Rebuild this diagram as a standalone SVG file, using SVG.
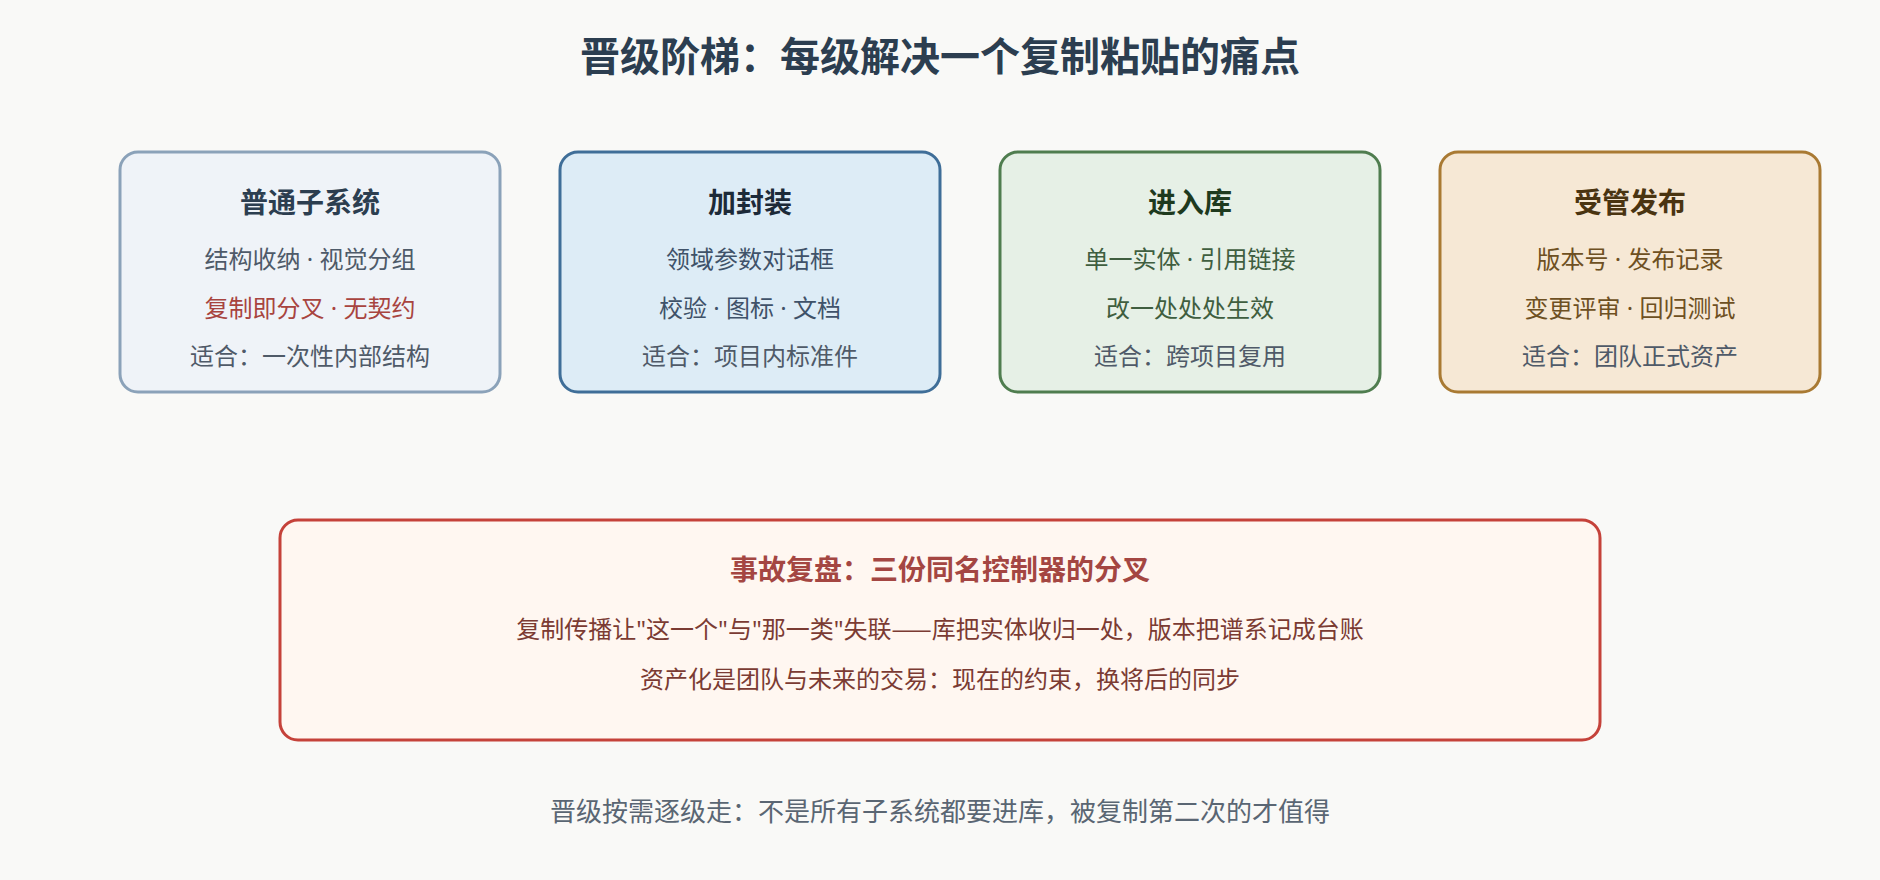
<svg xmlns="http://www.w3.org/2000/svg" width="1880" height="880" viewBox="0 0 1880 880">
<style>
text{font-family:"Noto Sans","Noto Sans CJK SC",sans-serif;text-anchor:middle}
.cjk{font-family:"Noto Sans CJK SC",sans-serif}
.h{font-size:28px;font-weight:bold}
.b{font-size:24px}
.box{stroke-width:3}
.fit{fill:#4f5a68}
</style>
<rect width="1880" height="880" fill="#f9f9f7"/>
<text x="940" y="71" style="font-size:40px;font-weight:bold" fill="#2c3e50">晋级阶梯：每级解决一个复制粘贴的痛点</text>
<g id="connectors"></g>
<g id="node-subsystem">
<rect class="box" x="120" y="152" width="380" height="240" rx="18" fill="#eff3f8" stroke="#8ba2b9"/>
<text class="h" x="310" y="213" fill="#2c3e50">普通子系统</text>
<text class="b" x="310" y="268" fill="#4e5a69">结构收纳 · 视觉分组</text>
<text class="b" x="310" y="317" fill="#a8443f">复制即分叉 · 无契约</text>
<text class="b fit" x="310" y="365">适合：一次性内部结构</text>
</g>
<g id="node-mask">
<rect class="box" x="560" y="152" width="380" height="240" rx="18" fill="#ddecf6" stroke="#3f6e98"/>
<text class="h" x="750" y="213" fill="#1c2a38">加封装</text>
<text class="b" x="750" y="268" fill="#3f5269">领域参数对话框</text>
<text class="b" x="750" y="317" fill="#3f5269">校验 · 图标 · 文档</text>
<text class="b fit" x="750" y="365">适合：项目内标准件</text>
</g>
<g id="node-library">
<rect class="box" x="1000" y="152" width="380" height="240" rx="18" fill="#e6f0e6" stroke="#4f7d4f"/>
<text class="h" x="1190" y="213" fill="#1e3a1e">进入库</text>
<text class="b" x="1190" y="268" fill="#3f5e3f">单一实体 · 引用链接</text>
<text class="b" x="1190" y="317" fill="#3f5e3f">改一处处处生效</text>
<text class="b fit" x="1190" y="365">适合：跨项目复用</text>
</g>
<g id="node-release">
<rect class="box" x="1440" y="152" width="380" height="240" rx="18" fill="#f6e8d5" stroke="#a97a33"/>
<text class="h" x="1630" y="213" fill="#4a3411">受管发布</text>
<text class="b" x="1630" y="268" fill="#6e5022">版本号 · 发布记录</text>
<text class="b" x="1630" y="317" fill="#6e5022">变更评审 · 回归测试</text>
<text class="b fit" x="1630" y="365">适合：团队正式资产</text>
</g>
<g id="node-incident">
<rect class="box" x="280" y="520" width="1320" height="220" rx="18" fill="#fff7f1" stroke="#c5423a"/>
<text x="940" y="580" style="font-size:28px;font-weight:bold" fill="#a44642">事故复盘：三份同名控制器的分叉</text>
<text class="b" x="940" y="638" fill="#7b3b33">复制传播让"这一个"与"那一类"失联<tspan class="cjk">——</tspan>库把实体收归一处，版本把谱系记成台账</text>
<text class="b" x="940" y="688" fill="#7b3b33">资产化是团队与未来的交易：现在的约束，换将后的同步</text>
</g>
<text x="940" y="821" style="font-size:26px" fill="#5a6673">晋级按需逐级走：不是所有子系统都要进库，被复制第二次的才值得</text>
</svg>
